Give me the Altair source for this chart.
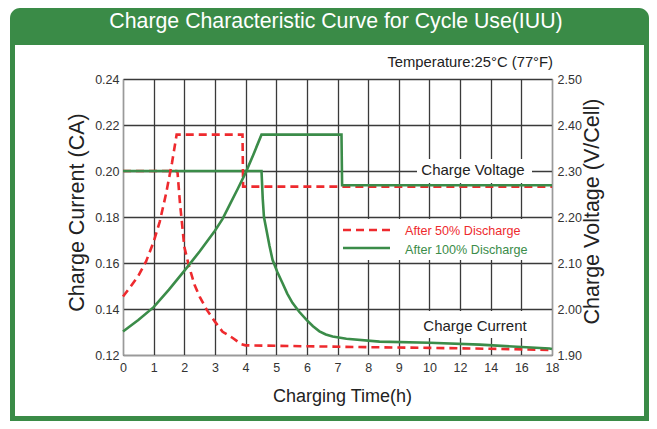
import altair as alt
import pandas as pd

FONT = "Liberation Sans, Arial, Helvetica, sans-serif"
GREEN = "#3a8b47"
LINE_GREEN = "#3b8c49"
RED = "#ee2a2e"
GRID = "#3a3a3a"

# ---------------- data ----------------
x_tick_pos = list(range(15))
x_tick_labels = ["0", "1", "2", "3", "4", "5", "6", "7", "8", "9", "10", "12", "14", "16", "18"]
y_left_ticks = [0.12, 0.14, 0.16, 0.18, 0.20, 0.22, 0.24]
y_right_ticks = [1.90, 2.00, 2.10, 2.20, 2.30, 2.40, 2.50]

# After 50% discharge (red, dashed)
red_cur_h = [0, 1.75, 1.78, 1.86, 1.94, 2.0, 2.14, 2.33, 2.5, 2.73, 3.0, 3.25, 3.57, 3.85, 4.0, 6.0, 8.0, 10.0, 14.0, 18.0]
red_cur_v = [0.200, 0.200, 0.1993, 0.186, 0.1753, 0.1671, 0.1593, 0.1506, 0.1454, 0.1397, 0.1345, 0.1301, 0.1275,
             0.1248, 0.1242, 0.1238, 0.1234, 0.1231, 0.1227, 0.1222]
red_volt_h = [0, 0.25, 0.5, 0.75, 1.0, 1.2, 1.4, 1.6, 1.75, 3.90, 3.92, 18]
red_volt_v = [2.027, 2.049, 2.072, 2.103, 2.146, 2.190, 2.249, 2.318, 2.379, 2.379, 2.266, 2.266]

# After 100% discharge (green, solid)
green_cur_h = [0, 4.52, 4.56, 4.60, 4.68, 4.78, 4.88, 5.04, 5.2, 5.36, 5.53, 5.75, 5.99, 6.2, 6.41, 6.62, 6.84, 7.29,
               8.37, 10, 13.3, 17.84, 18]
green_cur_v = [0.200, 0.200, 0.188, 0.180, 0.1745, 0.1675, 0.1614, 0.156, 0.1514, 0.1467, 0.1427, 0.1388, 0.1353,
               0.1325, 0.1303, 0.1289, 0.128, 0.1271, 0.1258, 0.1253, 0.1245, 0.1228, 0.1226]
green_volt_h = [0, 0.5, 1.0, 1.5, 2.0, 2.5, 3.0, 3.25, 3.5, 3.75, 4.0, 4.25, 4.52, 7.13, 7.15, 18]
green_volt_v = [1.951, 1.976, 2.004, 2.042, 2.083, 2.125, 2.170, 2.196, 2.229, 2.262, 2.296, 2.335, 2.379, 2.379,
                2.269, 2.269]

title_text = ["Charge Characteristic Curve for Cycle Use(IUU)"]
temp_text = ["Temperature:25°C (77°F)"]
legend_text = ["After 50% Discharge", "After 100% Discharge"]
annot_text = ["Charge Voltage", "Charge Current"]

# ---------------- helpers ----------------
POS_EXPR = "datum.h <= 10 ? datum.h : 10 + (datum.h - 10) / 2"
label_expr = "[" + ",".join("'%s'" % s for s in x_tick_labels) + "][datum.value]"


def xenc():
    return alt.X(
        "p:Q",
        scale=alt.Scale(domain=[0, 14], nice=False, zero=False),
        axis=alt.Axis(
            values=x_tick_pos, labelExpr=label_expr, title="Charging Time(h)",
            grid=True, gridColor=GRID, gridWidth=1.3, ticks=False, labelFlush=False,
            domainColor="#9a9a9a", domainWidth=1.2,
            labelFont=FONT, labelFontSize=12.5, labelColor="#333333", labelPadding=6,
            titleFont=FONT, titleFontSize=18, titleFontWeight="normal", titleColor="#222222",
            titleX=219, titleY=41, titleBaseline="middle", titleAlign="center",
        ),
    )


def series(h, v):
    return pd.DataFrame({"h": h, "v": v})


one = pd.DataFrame({"k": [0]})

left_axis = alt.Axis(
    values=y_left_ticks, format=".2f", title="Charge  Current (CA)", orient="left",
    grid=True, gridColor=GRID, gridWidth=1.3, ticks=False,
    domainColor="#9a9a9a", domainWidth=1.2,
    labelFont=FONT, labelFontSize=12.5, labelColor="#333333", labelPadding=4,
    titleFont=FONT, titleFontSize=21.5, titleFontWeight="normal", titleColor="#222222",
    titleAngle=270, titleX=-46, titleY=133, titleBaseline="middle", titleAlign="center",
)
right_axis = alt.Axis(
    values=y_right_ticks, format=".2f", title="Charge Voltage (V/Cell)", orient="right",
    grid=False, ticks=False,
    domainColor="#9a9a9a", domainWidth=1.2,
    labelFont=FONT, labelFontSize=12.5, labelColor="#333333", labelPadding=5,
    titleFont=FONT, titleFontSize=21.5, titleFontWeight="normal", titleColor="#222222",
    titleAngle=270, titleX=40, titleY=132, titleBaseline="middle", titleAlign="center",
)
yl_scale = alt.Scale(domain=[0.12, 0.24], nice=False, zero=False)
yr_scale = alt.Scale(domain=[1.90, 2.50], nice=False, zero=False)


def rect(x, x2, y, y2, color, **kw):
    return alt.Chart(one).mark_rect(color=color, **kw).encode(
        x=alt.value(x), x2=alt.value(x2), y=alt.value(y), y2=alt.value(y2))


# ---------------- frame & decorations ----------------
header = rect(-113, 526, -71, -34, GREEN, cornerRadiusTopLeft=10, cornerRadiusTopRight=10)
border_l = rect(-113, -108, -35, 342, GREEN)
border_r = rect(521, 526, -35, 342, GREEN)
border_b = rect(-113, 526, 337, 342, GREEN)

box_volt = rect(294, 409, 80, 104, "white")
box_cur = rect(287, 417, 232, 259, "white")
box_leg = rect(218, 425, 140, 181, "white")

title = alt.Chart(pd.DataFrame({"t": title_text})).mark_text(
    font=FONT, fontSize=21.3, color="white", align="center", baseline="middle"
).encode(text="t:N", x=alt.value(213), y=alt.value(-57))

temp = alt.Chart(pd.DataFrame({"t": temp_text})).mark_text(
    font=FONT, fontSize=14.8, color="#222222", align="right", baseline="middle"
).encode(text="t:N", x=alt.value(430), y=alt.value(-16))

annot_v = alt.Chart(pd.DataFrame({"t": annot_text[:1]})).mark_text(
    font=FONT, fontSize=15, color="#222222", align="center", baseline="middle"
).encode(text="t:N", x=alt.value(350), y=alt.value(91))
annot_c = alt.Chart(pd.DataFrame({"t": annot_text[1:]})).mark_text(
    font=FONT, fontSize=15, color="#222222", align="center", baseline="middle"
).encode(text="t:N", x=alt.value(352), y=alt.value(247))

leg_red_line = alt.Chart(one).mark_rule(color=RED, strokeWidth=2.6, strokeDash=[8, 5]).encode(
    x=alt.value(220), x2=alt.value(267), y=alt.value(151))
leg_green_line = alt.Chart(one).mark_rule(color=LINE_GREEN, strokeWidth=2.6).encode(
    x=alt.value(220), x2=alt.value(267), y=alt.value(169))
leg_red_txt = alt.Chart(pd.DataFrame({"t": legend_text[:1]})).mark_text(
    font=FONT, fontSize=12.6, color=RED, align="left", baseline="middle"
).encode(text="t:N", x=alt.value(282), y=alt.value(152))
leg_green_txt = alt.Chart(pd.DataFrame({"t": legend_text[1:]})).mark_text(
    font=FONT, fontSize=12.6, color=LINE_GREEN, align="left", baseline="middle"
).encode(text="t:N", x=alt.value(282), y=alt.value(171))

# ---------------- data lines ----------------
red_cur = alt.Chart(series(red_cur_h, red_cur_v)).transform_calculate(p=POS_EXPR).mark_line(
    color=RED, strokeWidth=2.6, strokeDash=[8, 5]
).encode(x=xenc(), y=alt.Y("v:Q", scale=yl_scale, axis=left_axis))
green_cur = alt.Chart(series(green_cur_h, green_cur_v)).transform_calculate(p=POS_EXPR).mark_line(
    color=LINE_GREEN, strokeWidth=2.6
).encode(x=xenc(), y=alt.Y("v:Q", scale=yl_scale, axis=left_axis))

red_volt = alt.Chart(series(red_volt_h, red_volt_v)).transform_calculate(p=POS_EXPR).mark_line(
    color=RED, strokeWidth=2.6, strokeDash=[8, 5]
).encode(x=xenc(), y=alt.Y("v:Q", scale=yr_scale, axis=right_axis))
green_volt = alt.Chart(series(green_volt_h, green_volt_v)).transform_calculate(p=POS_EXPR).mark_line(
    color=LINE_GREEN, strokeWidth=2.6
).encode(x=xenc(), y=alt.Y("v:Q", scale=yr_scale, axis=right_axis))

left = alt.layer(
    header, border_l, border_r, border_b, box_volt, box_cur, box_leg,
    title, temp, annot_v, annot_c,
    leg_red_line, leg_green_line, leg_red_txt, leg_green_txt,
    red_cur, green_cur,
)
right = alt.layer(red_volt, green_volt)

chart = alt.layer(left, right).resolve_scale(y="independent").properties(
    width=429, height=276,
    autosize=alt.AutoSizeParams(type="none"),
    padding={"left": 115, "top": 71, "right": 97, "bottom": 66},
    background="white",
).configure_view(strokeWidth=0)

chart.save("out.html", embed_options={"renderer": "svg", "actions": False})
